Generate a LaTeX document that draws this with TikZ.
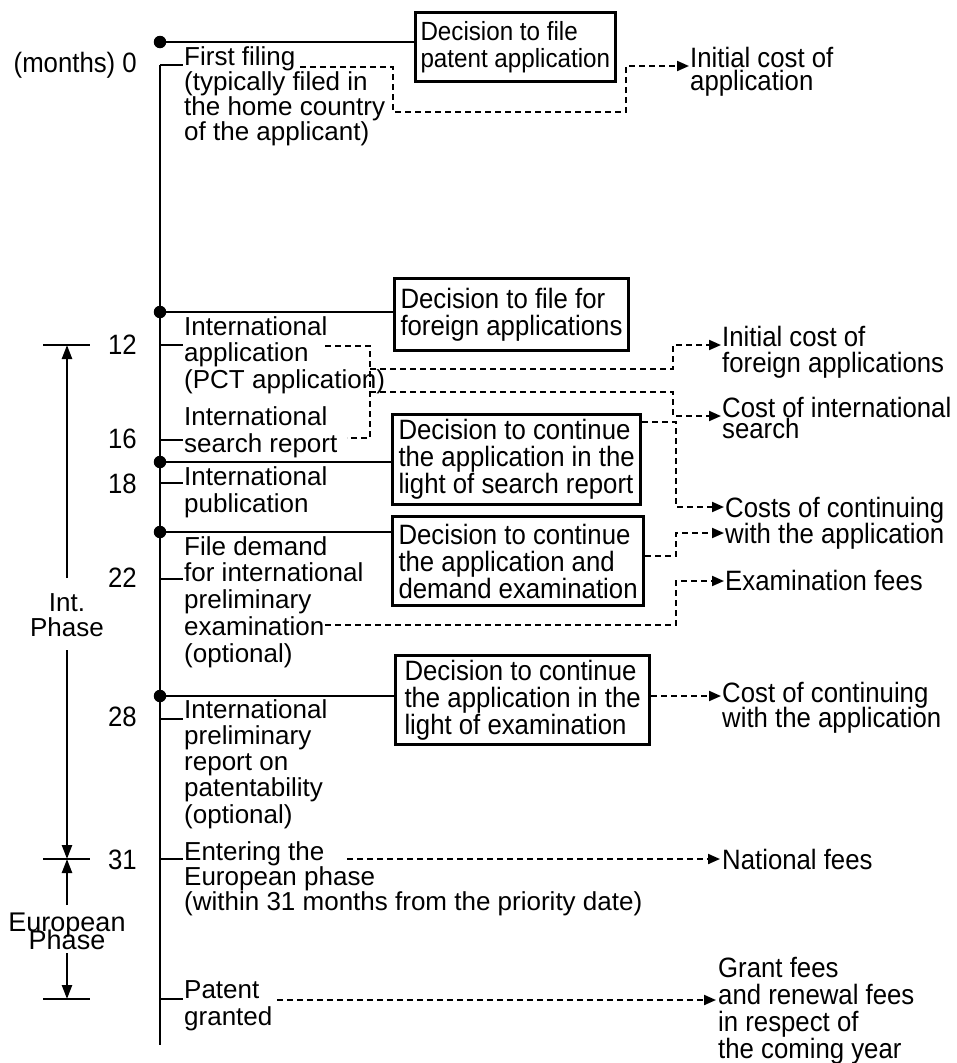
\documentclass[tikz,border=0pt]{standalone}
\usepackage{fontspec}
\setmainfont{Liberation Sans}
\newfontfamily\condfont[FakeStretch=0.92]{Liberation Sans}
\newcommand\tightls{\lineskiplimit -50pt\relax}
\usetikzlibrary{arrows.meta,calc}
\begin{document}
\begin{tikzpicture}[x=1pt,y=-1pt,
  every node/.style={inner sep=0pt, font=\fontsize{26}{26}\selectfont},
  txt/.style={anchor=base west, align=left},
  bs/.style={font={\fontsize{26}{#1}\selectfont\tightls}},
  cbs/.style={font={\condfont\fontsize{28}{#1}\selectfont\tightls}},
  box/.style={draw, line width=3pt, anchor=north west, align=left, inner xsep=5pt, inner ysep=0pt, cbs=27},
  solidln/.style={line width=2.4pt},
  dashln/.style={line width=2pt, dash pattern=on 6pt off 4pt},
  tip/.style={-{Triangle[length=12pt,width=10pt]}},
  dimtip/.style={line width=2.4pt, -{Triangle[length=14pt,width=10pt]}},
  dot/.style={circle, fill, minimum size=12.5pt, inner sep=0pt},
  month/.style={anchor=east, cbs=28}
]
\useasboundingbox (0,0) rectangle (957,1063);

% timeline
\coordinate (ttop) at (160,65);
\coordinate (tbot) at (160,1045);
\draw[line width=2.8pt] (ttop) -- (tbot);
\foreach \n/\y in {t0/65,t12/345,t16/440,t18/483,t22/579,t28/719,t31/859,tg/999}{
  \coordinate (\n) at (160,\y);
  \draw[solidln] (\n) -- ++(23,0);
}

% month labels
\node[anchor=base east, cbs=28] (m0) at (137,72) {(months) 0};
\node[month] (m12) at (137,345) {12};
\node[month] (m16) at (137,439) {16};
\node[month] (m18) at (137,484) {18};
\node[month] (m22) at (137,578) {22};
\node[month] (m28) at (137,717) {28};
\node[month] (m31) at (137,860) {31};

% events (anchored at the baseline of the last line)
\node[txt, bs=25] (e0) at (184,140) {First filing\\(typically filed in\\the home country\\of the applicant)};
\node[txt, bs=26.5] (e12) at (184,388) {International\\application\\(PCT application)};
\node[txt, bs=27] (e16) at (184,452) {International\\search report};
\node[txt, bs=27] (e18) at (184,512) {International\\publication};
\node[txt, bs=26.7] (e22) at (184,662) {File demand\\for international\\preliminary\\examination\\(optional)};
\node[txt, bs=26.2] (e28) at (184,823) {International\\preliminary\\report on\\patentability\\(optional)};
\node[txt, bs=25] (e31) at (184,910) {Entering the\\European phase\\(within 31 months from the priority date)};
\node[txt, bs=27] (eg) at (184,1025) {Patent\\granted};

% decision boxes
\node[box, minimum height=69pt, font={\condfont\fontsize{26.3}{27}\selectfont}] (b1) at (414,11) {Decision to file\\patent application};
\node[box, minimum height=72pt, inner xsep=6pt] (b2) at (393,277) {Decision to file for\\foreign applications};
\node[box, minimum height=90pt, inner xsep=6pt] (b3) at (391,413) {Decision to continue\\the application in the\\light of search report};
\node[box, minimum height=89pt, inner xsep=6pt] (b4) at (391,515) {Decision to continue\\the application and\\demand examination};
\node[box, minimum height=89pt, inner xsep=9pt] (b5) at (394,654) {Decision to continue\\the application in the\\light of examination};

% decision dots and lines
\foreach \n/\y/\b in {d1/42/b1,d2/312/b2,d3/462/b3,d4/532/b4,d5/696/b5}{
  \node[dot] (\n) at (160,\y) {};
  \draw[solidln] (\n.center) -- (\n.center -| \b.west);
}

% cost texts (anchored at the baseline of the last line)
\node[txt, cbs=23] (r0) at (690,90) {Initial cost of\\application};
\node[txt, cbs=26] (r12a) at (722,372) {Initial cost of\\foreign applications};
\node[txt, cbs=21] (r12b) at (722,438) {Cost of international\\search};
\node[txt, cbs=26] (r18) at (725,543) {Costs of continuing\\with the application};
\node[txt, cbs=26] (r22) at (725,590) {Examination fees};
\node[txt, cbs=25] (r28) at (722,727) {Cost of continuing\\with the application};
\node[txt, cbs=26] (r31) at (722,869) {National fees};
\node[txt, cbs=27] (rg) at (718,1058) {Grant fees\\and renewal fees\\in respect of\\the coming year};

% dashed connectors
\draw[dashln, tip] (300,67) -- (393,67) -- (393,112) -- (626,112) -- (626,66) -- (689,66);
\draw[dashln] (325,346) -- (370,346) -- (370,438) -- (347,438);
\draw[dashln, tip] (370,369) -- (673,369) -- (673,345) -- (721,345);
\draw[dashln, tip] (370,392) -- (673,392) -- (673,416) -- (721,416);
\draw[dashln, tip] (b3.east |- 0,422) -- (676,422) -- (676,507) -- (724,507);
\draw[dashln, tip] (b4.east |- 0,556) -- (676,556) -- (676,533) -- (724,533);
\draw[dashln, tip] (325,625) -- (676,625) -- (676,581) -- (724,581);
\draw[dashln, tip] (b5.east |- 0,696) -- (721,696);
\draw[dashln, tip] (347,859) -- (720,859);
\draw[dashln, tip] (277,1000) -- (716,1000);

% phase dimensions
\foreach \n/\y in {p12/345,p31/859,pg/999}{
  \coordinate (\n) at (67,\y);
  \draw[solidln] (43,\y) -- (90,\y);
}
\node[anchor=base, align=center, bs=25] (ip) at (67,636) {Int.\\Phase};
\node[anchor=base, align=center, font={\fontsize{27}{18}\selectfont\tightls}] (ep) at (67,949) {European\\Phase};
\draw[dimtip] (67,578) -- (p12);
\draw[dimtip] (67,650) -- (p31);
\draw[dimtip] (67,905) -- (p31);
\draw[dimtip] (67,953) -- (pg);
\end{tikzpicture}
\end{document}
